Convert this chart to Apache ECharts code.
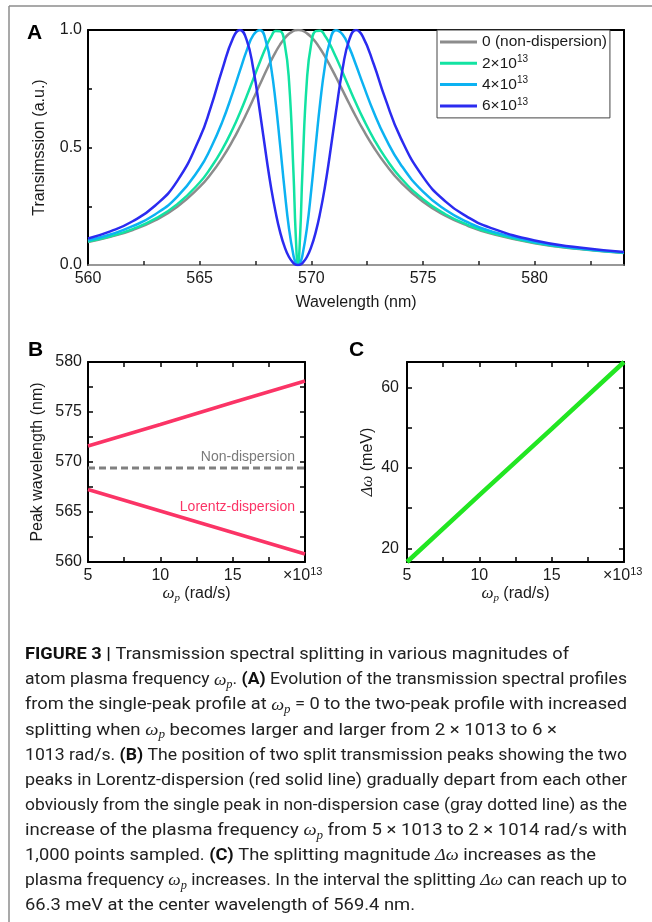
<!DOCTYPE html>
<html>
<head>
<meta charset="utf-8">
<script src="https://cdn.jsdelivr.net/npm/echarts@6.0.0/dist/echarts.min.js"></script>
<style>
  html, body { margin: 0; padding: 0; background: #fff; }
  #fig { width: 652px; height: 922px; }
</style>
</head>
<body>
<div id="fig"></div>
<script>
// ---- panel A: transmission vs wavelength (nm) ----
const wavelength = [560, 561, 562, 563, 564, 565, 565.5, 566, 566.5, 566.8, 567.1, 567.4, 567.7, 568,
  568.2, 568.4, 568.6, 568.8, 569, 569.2, 569.3, 569.4, 569.5, 569.6, 569.8, 570, 570.2, 570.4,
  570.6, 570.8, 571.1, 571.4, 571.7, 572, 572.3, 572.8, 573.3, 574, 575, 576, 577, 578, 580, 582, 584];
const tNonDisp = [0.098, 0.120, 0.149, 0.190, 0.248, 0.332, 0.387, 0.454, 0.533, 0.587, 0.645, 0.706, 0.769, 0.831,
  0.870, 0.906, 0.938, 0.964, 0.984, 0.996, 0.999, 1.000, 0.999, 0.997, 0.986, 0.970, 0.948, 0.920,
  0.889, 0.855, 0.800, 0.743, 0.686, 0.631, 0.579, 0.500, 0.432, 0.353, 0.269, 0.210, 0.167, 0.135, 0.093, 0.068, 0.051];
const t2e13 = [0.100, 0.122, 0.153, 0.196, 0.259, 0.351, 0.414, 0.490, 0.583, 0.647, 0.717, 0.791, 0.865, 0.934,
  0.972, 0.996, 0.995, 0.945, 0.784, 0.393, 0.131, 0.000, 0.131, 0.393, 0.784, 0.945, 0.995, 0.997,
  0.977, 0.945, 0.885, 0.820, 0.753, 0.688, 0.627, 0.536, 0.459, 0.371, 0.280, 0.216, 0.171, 0.138, 0.095, 0.069, 0.052];
const t4e13 = [0.105, 0.130, 0.165, 0.215, 0.291, 0.412, 0.498, 0.606, 0.739, 0.826, 0.911, 0.978, 0.999, 0.940,
  0.841, 0.694, 0.512, 0.322, 0.155, 0.040, 0.010, 0.000, 0.010, 0.040, 0.155, 0.322, 0.512, 0.694,
  0.841, 0.940, 0.999, 0.981, 0.925, 0.851, 0.773, 0.649, 0.544, 0.428, 0.312, 0.235, 0.182, 0.145, 0.098, 0.070, 0.053];
const t6e13 = [0.113, 0.143, 0.186, 0.252, 0.358, 0.540, 0.672, 0.828, 0.967, 1.000, 0.959, 0.835, 0.650, 0.450,
  0.328, 0.225, 0.141, 0.078, 0.034, 0.008, 0.002, 0.000, 0.002, 0.008, 0.034, 0.078, 0.141, 0.225,
  0.328, 0.450, 0.650, 0.835, 0.959, 1.000, 0.973, 0.853, 0.711, 0.541, 0.375, 0.271, 0.204, 0.159, 0.104, 0.074, 0.055];
const legendNames = ['0 (non-dispersion)', '2×10^13', '4×10^13', '6×10^13'];

const ticksA_x = [562.5, 565, 567.5, 570, 572.5, 575, 577.5, 580, 582.5];
const labelsA_x = [560, 565, 570, 575, 580];
const ticksA_y = [0.25, 0.5, 0.75];
const labelsA_y = [0, 0.5, 1];

// ---- panels B and C: omega_p in units of 1e13 rad/s ----
const omegaP = [5, 10, 15, 20];
const peakUpper = [571.6, 573.75, 575.95, 578.1];
const peakLower = [567.25, 565.1, 562.95, 560.8];
const peakNonDisp = [569.4, 569.4, 569.4, 569.4];
const splitting = [16.6, 33.2, 49.7, 66.3];

const ticksBC_x = [7.5, 10, 12.5, 15, 17.5];
const labelsBC_x = [5, 10, 15];
const ticksB_y = [562.5, 565, 567.5, 570, 572.5, 575, 577.5];
const labelsB_y = [560, 565, 570, 575, 580];
const ticksC_y = [20, 30, 40, 50, 60];
const labelsC_y = [20, 40, 60];

const SANS = 'Liberation Sans';
const SERIF = 'Liberation Serif';
const CAP = 'Roboto';
const INK = '#1a1a1a';

const pairs = (xs, ys) => xs.map((x, i) => [x, ys[i]]);
const tickLabel = { fontSize: 16, fontFamily: SANS, color: INK };
const nameStyle = { fontSize: 16, fontFamily: SANS, color: INK, lineHeight: 18 };
const omegaName = {
  name: '{w|ω}{p|p}{t| (rad/s)}',
  nameTextStyle: {
    rich: {
      w: { fontSize: 17, fontFamily: SERIF, fontStyle: 'italic', color: INK, lineHeight: 20 },
      p: { fontSize: 11, fontFamily: SERIF, fontStyle: 'italic', color: INK, verticalAlign: 'bottom' },
      t: { fontSize: 16, fontFamily: SANS, color: INK, lineHeight: 20 }
    }
  }
};

function mainAxis(grid, min, max, ticks, labels, extra) {
  return Object.assign({
    gridIndex: grid, type: 'value', min: min, max: max,
    axisLine: { onZero: false, lineStyle: { color: '#000', width: 2 } },
    axisTick: { inside: true, length: 5, customValues: ticks, lineStyle: { color: '#000', width: 1.5 } },
    axisLabel: Object.assign({ customValues: labels, margin: 6 }, tickLabel),
    splitLine: { show: false },
    nameLocation: 'middle'
  }, extra);
}
function mirrorAxis(grid, min, max, pos, ticks) {
  return {
    gridIndex: grid, type: 'value', min: min, max: max, position: pos,
    axisLine: { onZero: false, lineStyle: { color: '#000', width: 2 } },
    axisTick: ticks ? { inside: true, length: 5, customValues: ticks, lineStyle: { color: '#000', width: 1.5 } } : { show: false },
    axisLabel: { show: false },
    splitLine: { show: false }
  };
}

const xAxis = [
  mainAxis(0, 560, 584, ticksA_x, labelsA_x, {
    axisLine: { onZero: false, lineStyle: { color: '#777', width: 1.5 } },
    axisTick: { inside: true, length: 4, customValues: ticksA_x, lineStyle: { color: '#222', width: 1.5 } },
    name: 'Wavelength (nm)', nameGap: 29, nameTextStyle: nameStyle
  }),
  mirrorAxis(0, 560, 584, 'top', null),
  mainAxis(1, 5, 20, ticksBC_x, labelsBC_x, Object.assign({ nameGap: 21 }, omegaName)),
  mirrorAxis(1, 5, 20, 'top', ticksBC_x),
  mainAxis(2, 5, 20, ticksBC_x, labelsBC_x, Object.assign({ nameGap: 21 }, omegaName)),
  mirrorAxis(2, 5, 20, 'top', ticksBC_x)
];

const yAxis = [
  mainAxis(0, 0, 1, ticksA_y, labelsA_y, {
    axisTick: { inside: true, length: 4, customValues: ticksA_y, lineStyle: { color: '#000', width: 1.5 } },
    axisLabel: Object.assign({ customValues: labelsA_y, margin: 6, formatter: v => v.toFixed(1) }, tickLabel),
    name: 'Transimssion (a.u.)', nameGap: 35, nameTextStyle: nameStyle
  }),
  mirrorAxis(0, 0, 1, 'right', null),
  mainAxis(1, 560, 580, ticksB_y, labelsB_y, {
    name: 'Peak wavelength (nm)', nameGap: 41, nameTextStyle: nameStyle
  }),
  mirrorAxis(1, 560, 580, 'right', ticksB_y),
  mainAxis(2, 16.6, 66.3, ticksC_y, labelsC_y, {
    axisLabel: Object.assign({ customValues: labelsC_y, margin: 8 }, tickLabel),
    name: '{w|Δω}{t| (meV)}', nameGap: 30,
    nameTextStyle: {
      rich: {
        w: { fontSize: 16, fontFamily: SERIF, fontStyle: 'italic', color: INK, lineHeight: 18 },
        t: { fontSize: 16, fontFamily: SANS, color: INK, lineHeight: 18 }
      }
    }
  }),
  mirrorAxis(2, 16.6, 66.3, 'right', ticksC_y)
];

const specColors = ['#8c8c8c', '#12e3a2', '#0cb2f2', '#2b2bf0'];
const specData = [tNonDisp, t2e13, t4e13, t6e13];

const series = specData.map((ys, i) => ({
  name: legendNames[i], type: 'line', xAxisIndex: 0, yAxisIndex: 0,
  data: pairs(wavelength, ys), smooth: true, symbol: 'none',
  color: specColors[i], lineStyle: { width: 2.5, color: specColors[i] }
}));
series.push(
  { name: 'upper', type: 'line', xAxisIndex: 2, yAxisIndex: 2, data: pairs(omegaP, peakUpper),
    symbol: 'none', lineStyle: { width: 3.5, color: '#fb3466' } },
  { name: 'lower', type: 'line', xAxisIndex: 2, yAxisIndex: 2, data: pairs(omegaP, peakLower),
    symbol: 'none', lineStyle: { width: 3.5, color: '#fb3466' } },
  { name: 'non', type: 'line', xAxisIndex: 2, yAxisIndex: 2, data: pairs(omegaP, peakNonDisp),
    symbol: 'none', lineStyle: { width: 3, color: '#808080', type: [7, 4] } },
  { name: 'split', type: 'line', xAxisIndex: 4, yAxisIndex: 4, data: pairs(omegaP, splitting),
    symbol: 'none', lineStyle: { width: 4.5, color: '#22e622' } }
);

// caption, one text per printed line
const capRich = {
  r: { fontSize: 17, fontFamily: CAP, fill: '#222', lineHeight: 22 },
  b: { fontSize: 17, fontFamily: CAP, fontWeight: 'bold', fill: '#111', lineHeight: 22 },
  w: { fontSize: 17, fontFamily: SERIF, fontStyle: 'italic', fill: '#222', lineHeight: 22 },
  p: { fontSize: 12, fontFamily: SERIF, fontStyle: 'italic', fill: '#222', verticalAlign: 'bottom' }
};
const captionLines = [
  '{b|FIGURE 3 |}{r| Transmission spectral splitting in various magnitudes of}',
  '{r|atom plasma frequency }{w|ω}{p|p}{r|. }{b|(A)}{r| Evolution of the transmission spectral profiles}',
  '{r|from the single-peak profile at }{w|ω}{p|p}{r| = 0 to the two-peak profile with increased}',
  '{r|splitting when }{w|ω}{p|p}{r| becomes larger and larger from 2 × 1013 to 6 ×}',
  '{r|1013 rad/s. }{b|(B)}{r| The position of two split transmission peaks showing the two}',
  '{r|peaks in Lorentz-dispersion (red solid line) gradually depart from each other}',
  '{r|obviously from the single peak in non-dispersion case (gray dotted line) as the}',
  '{r|increase of the plasma frequency }{w|ω}{p|p}{r| from 5 × 1013 to 2 × 1014 rad/s with}',
  '{r|1,000 points sampled. }{b|(C)}{r| The splitting magnitude }{w|Δω}{r| increases as the}',
  '{r|plasma frequency }{w|ω}{p|p}{r| increases. In the interval the splitting }{w|Δω}{r| can reach up to}',
  '{r|66.3 meV at the center wavelength of 569.4 nm.}'
];
const captionRight = [569, 627, 627, 557, 627, 627, 627, 627, 596, 627, 415];

const mctx = document.createElement('canvas').getContext('2d');
function richWidth(str, rich) {
  let w = 0;
  str.replace(/\{(\w+)\|([^}]*)\}/g, (m, k, t) => {
    const s = rich[k];
    mctx.font = (s.fontStyle || 'normal') + ' ' + (s.fontWeight || 'normal') + ' ' + s.fontSize + 'px ' + s.fontFamily;
    w += mctx.measureText(t).width;
    return m;
  });
  return w;
}

const supRich = {
  m: { fontSize: 16, fontFamily: SANS, fill: INK, lineHeight: 20 },
  s: { fontSize: 11, fontFamily: SANS, fill: INK, verticalAlign: 'top' }
};
const letter = (t, x, y) => ({ type: 'text', x: x, y: y,
  style: { text: t, fontSize: 21, fontWeight: 'bold', fontFamily: SANS, fill: '#000', verticalAlign: 'middle' } });

const graphic = [
  { type: 'line', shape: { x1: 9, y1: 6, x2: 652, y2: 6 }, style: { stroke: '#8c8c8c', lineWidth: 1.5 } },
  { type: 'line', shape: { x1: 9, y1: 6, x2: 9, y2: 922 }, style: { stroke: '#8c8c8c', lineWidth: 1.5 } },
  letter('A', 27, 33), letter('B', 28, 350), letter('C', 349, 350),
  { type: 'text', x: 295, y: 457, style: { text: 'Non-dispersion', fontSize: 14, fontFamily: SANS, fill: '#7a7a7a', align: 'right', verticalAlign: 'middle' } },
  { type: 'text', x: 295, y: 507, style: { text: 'Lorentz-dispersion', fontSize: 14, fontFamily: SANS, fill: '#fb3466', align: 'right', verticalAlign: 'middle' } },
  { type: 'text', x: 283, y: 576, style: { text: '{m|×10}{s|13}', rich: supRich, verticalAlign: 'middle' } },
  { type: 'text', x: 603, y: 576, style: { text: '{m|×10}{s|13}', rich: supRich, verticalAlign: 'middle' } }
];
captionLines.forEach((line, i) => {
  const w = richWidth(line, capRich);
  graphic.push({
    type: 'text', x: 25, y: 655 + 25.1 * i, scaleX: (captionRight[i] - 25) / w,
    style: { text: line, rich: capRich, verticalAlign: 'middle' }
  });
});

const chart = echarts.init(document.getElementById('fig'), null, { renderer: 'canvas' });
chart.setOption({
  animation: false,
  backgroundColor: '#fff',
  grid: [
    { left: 88, top: 30, width: 536, height: 235, outerBoundsMode: 'none' },
    { left: 88, top: 362, width: 217, height: 200, outerBoundsMode: 'none' },
    { left: 407, top: 362, width: 217, height: 200, outerBoundsMode: 'none' }
  ],
  legend: {
    data: legendNames, orient: 'vertical', left: 437, top: 30,
    padding: [3, 3, 3, 3], itemGap: 3.3, itemWidth: 37, itemHeight: 3,
    icon: 'rect',
    borderColor: '#444', borderWidth: 1, backgroundColor: '#fff',
    formatter: n => n.replace(/\^(\d+)$/, '{s|$1}'),
    textStyle: {
      fontSize: 15.5, fontFamily: SANS, color: INK, lineHeight: 18,
      rich: { s: { fontSize: 10, fontFamily: SANS, color: INK, verticalAlign: 'top' } }
    }
  },
  xAxis: xAxis,
  yAxis: yAxis,
  series: series,
  graphic: graphic
});
</script>
</body>
</html>
